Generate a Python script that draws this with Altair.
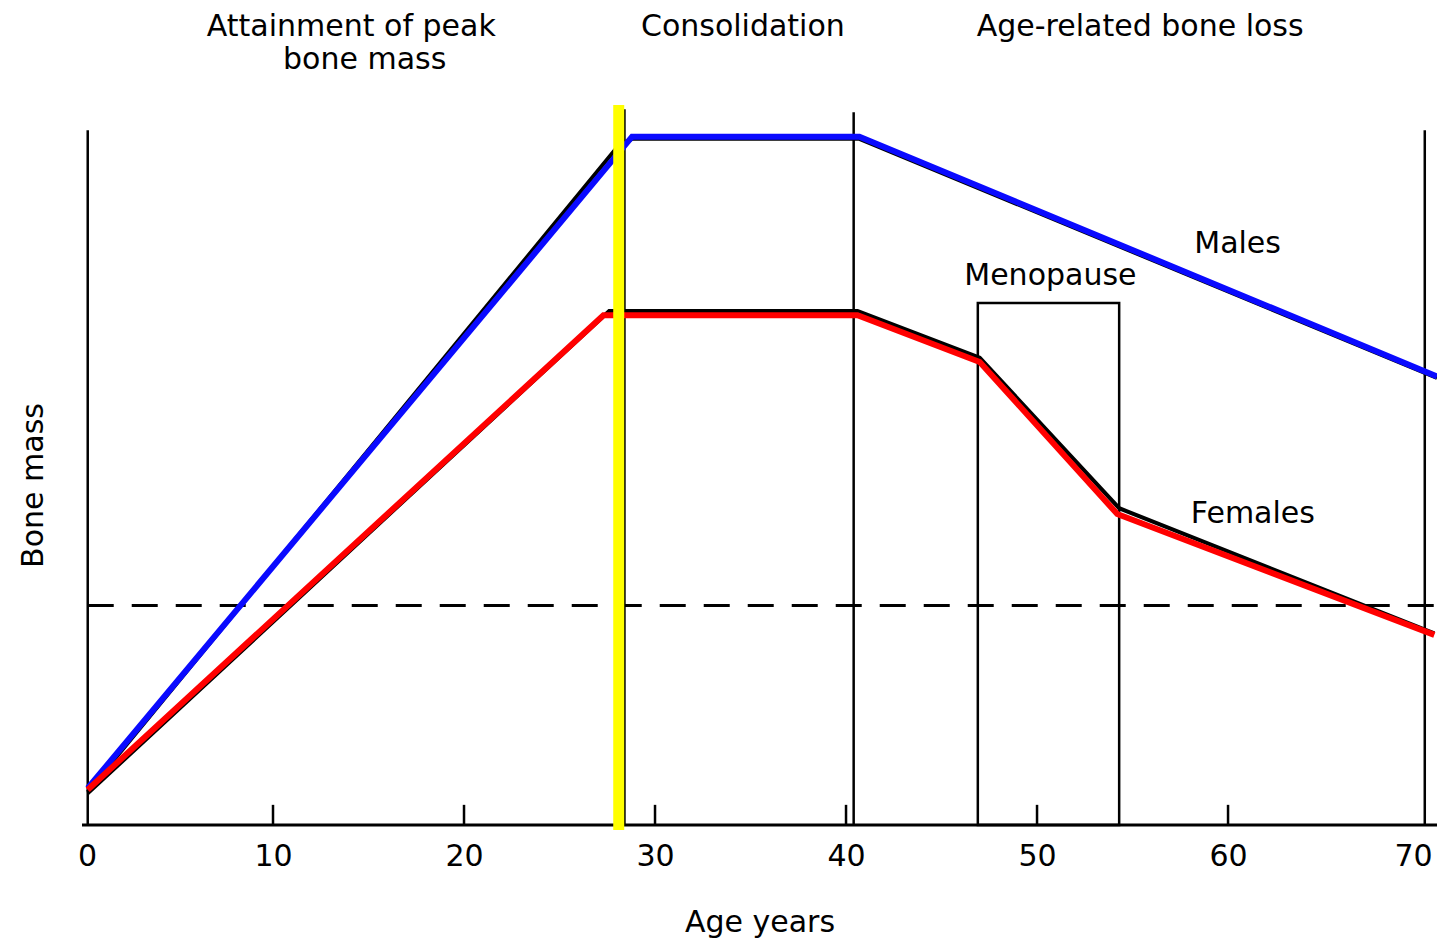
import altair as alt
import pandas as pd

# ---- data ----
male_age = [0.3, 28.8, 40.7, 70.94]
male_mass = [5.1, 95.6, 95.6, 62.3]
male_ink_age = [0.3, 28.1, 28.8, 40.7, 70.94]
male_ink_mass = [4.6, 94.4, 95.3, 95.3, 62.1]

female_age = [0.3, 27.3, 40.6, 47.0, 54.2, 70.8]
female_mass = [4.9, 70.8, 70.8, 64.3, 43.2, 26.4]
female_ink_age = [0.3, 27.6, 40.6, 47.0, 54.3, 70.8]
female_ink_mass = [4.4, 71.4, 71.4, 64.9, 44.0, 26.6]

divider_age = [0.3, 28.4, 40.4, 70.3]
divider_top = [96.5, 99.4, 99.0, 96.5]
tick_ages = [10, 20, 30, 40, 50, 60]
tick_labels = [0, 10, 20, 30, 40, 50, 60, 70]
threshold_mass = 30.5
menopause_start, menopause_end, menopause_top = 46.9, 54.3, 72.5
marker_age = 28.1

phase_labels = ["Attainment of peak", "bone mass", "Consolidation", "Age-related bone loss"]
phase_x = [14.1, 14.8, 34.6, 55.4]
phase_y = [110.8, 106.3, 110.8, 110.8]
series_labels = ["Males", "Menopause", "Females"]
series_x = [60.5, 50.7, 61.3]
series_y = [80.7, 76.2, 43.2]

X_MAX = 70.94
FONT = "DejaVu Sans"

xs = alt.Scale(domain=[0, X_MAX], nice=False, zero=False)
ys = alt.Scale(domain=[0, 100], nice=False, zero=False)
xaxis = alt.Axis(values=tick_labels, domain=False, ticks=False, grid=False,
                 labelFontSize=30, labelFont=FONT, labelColor="black",
                 labelPadding=16, labelFlush=False,
                 labelOffset={"condition": [{"test": "datum.value == 0", "value": 5},
                                            {"test": "datum.value == 70", "value": -6}],
                              "value": 0},
                 title="Age years", titleFontSize=30, titleFont=FONT,
                 titleFontWeight="normal", titleColor="black", titlePadding=36)
yaxis = alt.Axis(labels=False, domain=False, ticks=False, grid=False,
                 title="Bone mass", titleFontSize=30, titleFont=FONT,
                 titleFontWeight="normal", titleColor="black", titlePadding=34,
                 titleY=380)


def X(f):
    return alt.X(f, type="quantitative", scale=xs, axis=xaxis)


def Y(f):
    return alt.Y(f, type="quantitative", scale=ys, axis=yaxis)


male = pd.DataFrame({"age": male_age, "mass": male_mass, "o": range(len(male_age))})
male_ink = pd.DataFrame({"age": male_ink_age, "mass": male_ink_mass, "o": range(len(male_ink_age))})
female = pd.DataFrame({"age": female_age, "mass": female_mass, "o": range(len(female_age))})
female_ink = pd.DataFrame({"age": female_ink_age, "mass": female_ink_mass, "o": range(len(female_ink_age))})
dividers = pd.DataFrame({"age": divider_age, "top": divider_top, "bottom": [0] * len(divider_age)})
ticks = pd.DataFrame({"age": tick_ages, "bottom": [0] * len(tick_ages), "top": [2.8] * len(tick_ages)})
baseline = pd.DataFrame({"a": [0.0], "b": [X_MAX], "m": [0.0]})
threshold = pd.DataFrame({"a": [0.3], "b": [X_MAX], "m": [threshold_mass]})
meno = pd.DataFrame({"a": [menopause_start], "b": [menopause_end], "m0": [0.0], "m1": [menopause_top]})
marker = pd.DataFrame({"age": [marker_age], "m0": [-0.7], "m1": [100.0]})
phases = pd.DataFrame({"t": phase_labels, "x": phase_x, "y": phase_y})
series = pd.DataFrame({"t": series_labels, "x": series_x, "y": series_y})

base_rule = alt.Chart(baseline).mark_rule(color="black", strokeWidth=3).encode(
    x=X("a"), x2="b", y=Y("m"))
div_rules = alt.Chart(dividers).mark_rule(color="black", strokeWidth=2.5).encode(
    x=X("age"), y=Y("bottom"), y2="top")
tick_rules = alt.Chart(ticks).mark_rule(color="black", strokeWidth=2.5).encode(
    x=X("age"), y=Y("bottom"), y2="top")
dash_rule = alt.Chart(threshold).mark_rule(color="black", strokeWidth=3, strokeDash=[26, 18]).encode(
    x=X("a"), x2="b", y=Y("m"))
meno_rect = alt.Chart(meno).mark_rect(fillOpacity=0, stroke="black", strokeWidth=2.5).encode(
    x=X("a"), x2="b", y=Y("m0"), y2="m1")

male_ink_line = alt.Chart(male_ink).mark_line(color="black", strokeWidth=4).encode(
    x=X("age"), y=Y("mass"), order="o")
female_ink_line = alt.Chart(female_ink).mark_line(color="black", strokeWidth=4).encode(
    x=X("age"), y=Y("mass"), order="o")
male_line = alt.Chart(male).mark_line(color="#0a0aff", strokeWidth=6).encode(
    x=X("age"), y=Y("mass"), order="o")
female_line = alt.Chart(female).mark_line(color="#ff0000", strokeWidth=6).encode(
    x=X("age"), y=Y("mass"), order="o")
marker_rule = alt.Chart(marker).mark_rule(color="#ffff00", strokeWidth=11).encode(
    x=X("age"), y=Y("m0"), y2="m1")

phase_text = alt.Chart(phases).mark_text(font=FONT, fontSize=30, color="black",
                                         align="center", baseline="middle").encode(
    x=X("x"), y=Y("y"), text="t")
series_text = alt.Chart(series).mark_text(font=FONT, fontSize=30, color="black",
                                          align="center", baseline="middle").encode(
    x=X("x"), y=Y("y"), text="t")

chart = alt.layer(
    base_rule, div_rules, tick_rules, dash_rule, meno_rect,
    male_ink_line, female_ink_line, male_line, female_line, marker_rule,
    phase_text, series_text,
).properties(
    width=1355, height=720,
    autosize=alt.AutoSizeParams(type="none"),
    padding={"left": 74, "top": 97, "right": 0, "bottom": 113},
    background="white",
).configure_view(stroke=None)

chart.save("out.html", embed_options={"renderer": "svg", "actions": False})
